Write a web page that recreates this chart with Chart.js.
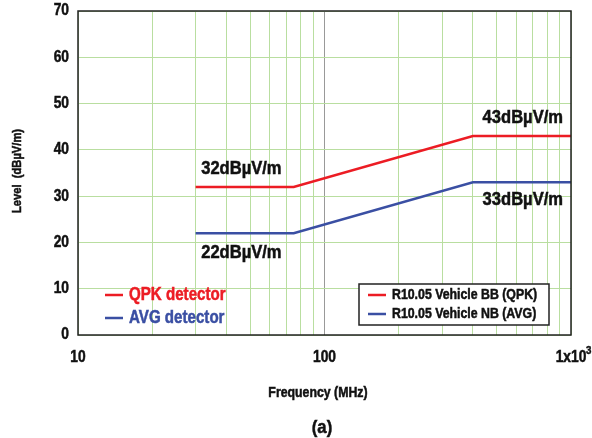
<!DOCTYPE html>
<html lang="en">
<head>
    <meta charset="UTF-8">
    <title>R10.05 limits</title>
    <style>
        html, body { margin: 0; padding: 0; background: #fff; }
        #wrap { position: relative; width: 592px; height: 438px; }
        #chart { width: 592px; height: 438px; }
    </style>
</head>
<body>
    <div id="wrap">
        <canvas id="chart" width="592" height="438"></canvas>
    </div>

    <script src="https://cdn.jsdelivr.net/npm/chart.js"></script>
    <script>
        // frequency points (MHz) and limit levels (dBuV/m)
        const freqs = [30, 75, 400, 1000];
        const qpkLevels = [32, 32, 43, 43];
        const avgLevels = [22, 22, 33, 33];

        const xTicks = [10, 20, 30, 40, 50, 60, 70, 80, 90, 100, 200, 300, 400, 500, 600, 700, 800, 900, 1000];
        const xTickLabels = [[10, '10'], [100, '100'], [1000, '1x10']];
        const yTicks = [0, 10, 20, 30, 40, 50, 60, 70];

        const seriesNames = ['R10.05 Vehicle BB (QPK)', 'R10.05 Vehicle NB (AVG)'];
        const detectorNames = ['QPK detector', 'AVG detector'];
        // value labels: [freq, level, text]
        const valueLabels = [
            [31.6, 35.9, '32dBµV/m'],
            [31.6, 17.7, '22dBµV/m'],
            [438, 46.9, '43dBµV/m'],
            [438, 29.2, '33dBµV/m']
        ];

        const RED = '#ec1c24';
        const BLUE = '#3a4fa3';
        const GRID = '#b9dea0';
        const FONT = '"Liberation Sans", Arial, sans-serif';

        const pts = (ys) => freqs.map((f, i) => ({ x: f, y: ys[i] }));

        // draw text squeezed horizontally, the original uses a condensed face
        function narrowText(ctx, text, x, y, size, squeeze, align) {
            ctx.save();
            ctx.translate(x, y);
            ctx.scale(squeeze, 1);
            ctx.font = 'bold ' + size + 'px ' + FONT;
            ctx.textAlign = align || 'left';
            ctx.textBaseline = 'middle';
            ctx.lineWidth = 0.5;
            ctx.strokeStyle = ctx.fillStyle;
            ctx.fillText(text, 0, 0);
            ctx.strokeText(text, 0, 0);
            ctx.restore();
        }

        const extras = {
            id: 'extras',
            afterDraw(chart) {
                const ctx = chart.ctx;
                const a = chart.chartArea;
                const xs = chart.scales.x, ys = chart.scales.y;
                ctx.save();
                // plot frame
                ctx.strokeStyle = '#222';
                ctx.lineWidth = 1.5;
                ctx.strokeRect(a.left, a.top, a.right - a.left, a.bottom - a.top);

                // tick labels
                ctx.fillStyle = '#111';
                yTicks.forEach(v => narrowText(ctx, String(v), a.left - 9, ys.getPixelForValue(v), 16, 0.86, 'right'));
                xTickLabels.forEach(([v, t]) => {
                    const px = xs.getPixelForValue(v);
                    narrowText(ctx, t, px, a.bottom + 23, 16, 0.86, 'center');
                });
                // superscript exponent on 1x10^3
                narrowText(ctx, '3', xs.getPixelForValue(1000) + 15, a.bottom + 16, 11, 0.88, 'left');

                // value labels
                valueLabels.forEach(([f, v, t]) => {
                    narrowText(ctx, t, xs.getPixelForValue(f), ys.getPixelForValue(v), 18, 0.92, 'left');
                });

                // detector legend (left)
                const detColors = [RED, BLUE];
                detectorNames.forEach((t, i) => {
                    const y = 295 + i * 23;
                    ctx.strokeStyle = detColors[i];
                    ctx.lineWidth = 2.5;
                    ctx.beginPath();
                    ctx.moveTo(105, y);
                    ctx.lineTo(123, y);
                    ctx.stroke();
                    ctx.fillStyle = detColors[i];
                    narrowText(ctx, t, 129, y, 18, 0.84, 'left');
                });

                // series legend box (right)
                ctx.fillStyle = '#fff';
                ctx.fillRect(359, 284, 190, 41);
                ctx.strokeStyle = '#222';
                ctx.lineWidth = 1.5;
                ctx.strokeRect(359, 284, 190, 41);
                seriesNames.forEach((t, i) => {
                    const y = 295 + i * 19;
                    ctx.strokeStyle = detColors[i];
                    ctx.lineWidth = 2.5;
                    ctx.beginPath();
                    ctx.moveTo(368, y);
                    ctx.lineTo(386, y);
                    ctx.stroke();
                    ctx.fillStyle = '#111';
                    narrowText(ctx, t, 392, y, 14, 0.88, 'left');
                });

                // axis titles
                ctx.fillStyle = '#111';
                narrowText(ctx, 'Frequency (MHz)', 318, 393, 14, 0.88, 'center');
                narrowText(ctx, '(a)', 322, 428, 19, 0.88, 'center');
                ctx.translate(17, 171);
                ctx.rotate(-Math.PI / 2);
                narrowText(ctx, 'Level  (dBµV/m)', 0, 0, 13, 0.86, 'center');
                ctx.restore();
            }
        };

        new Chart(document.getElementById('chart'), {
            type: 'line',
            data: {
                datasets: [{
                    label: seriesNames[0],
                    data: pts(qpkLevels),
                    borderColor: RED,
                    borderWidth: 2.5,
                    pointRadius: 0,
                    tension: 0
                }, {
                    label: seriesNames[1],
                    data: pts(avgLevels),
                    borderColor: BLUE,
                    borderWidth: 2.5,
                    pointRadius: 0,
                    tension: 0
                }]
            },
            options: {
                responsive: false,
                animation: false,
                layout: { padding: { left: 0, right: 21, top: 11, bottom: 103 } },
                plugins: {
                    legend: { display: false },
                    tooltip: { enabled: false }
                },
                scales: {
                    x: {
                        type: 'logarithmic',
                        min: 10,
                        max: 1000,
                        afterBuildTicks: (s) => { s.ticks = xTicks.map(v => ({ value: v })); },
                        afterFit: (s) => { s.height = 0; },
                        border: { display: false },
                        grid: {
                            drawTicks: false,
                            color: (c) => c.tick && c.tick.value === 100 ? '#999' : GRID,
                            lineWidth: 1
                        },
                        ticks: { display: false }
                    },
                    y: {
                        min: 0,
                        max: 70,
                        afterBuildTicks: (s) => { s.ticks = yTicks.map(v => ({ value: v })); },
                        afterFit: (s) => { s.width = 78; },
                        border: { display: false },
                        grid: { drawTicks: false, color: GRID, lineWidth: 1 },
                        ticks: { display: false }
                    }
                }
            },
            plugins: [extras]
        });
    </script>
</body>
</html>
